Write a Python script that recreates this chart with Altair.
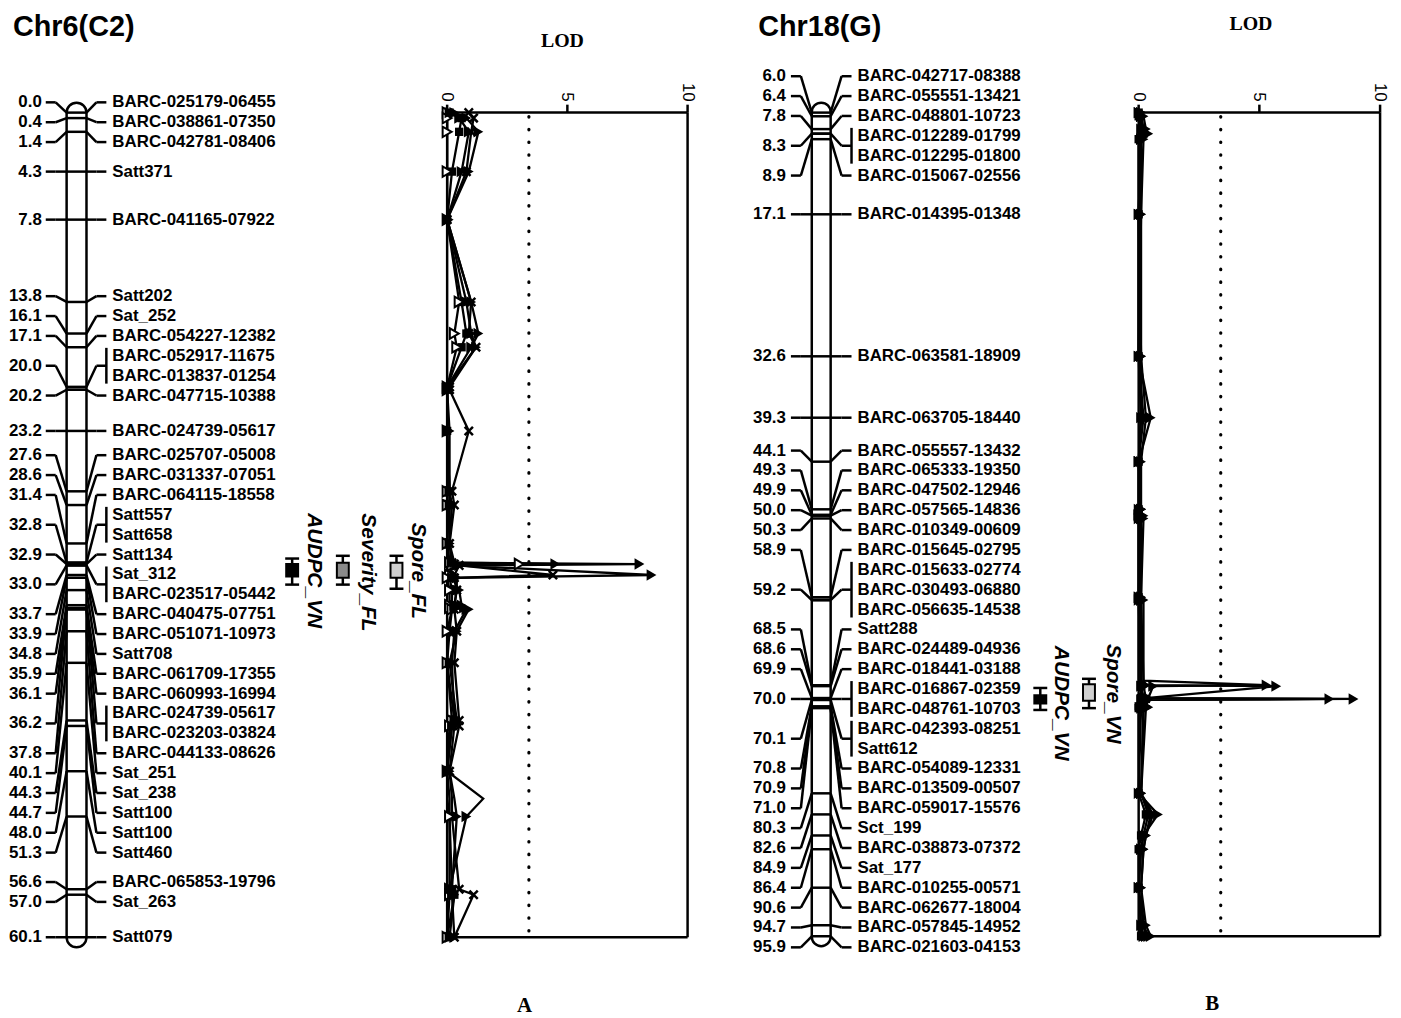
import altair as alt
import pandas as pd

SANS = "Liberation Sans"
SERIF = "Liberation Serif"

# ---------------- Panel A : Chr6(C2) ----------------
A_MARKERS = ["BARC-025179-06455", "BARC-038861-07350", "BARC-042781-08406", "Satt371",
             "BARC-041165-07922", "Satt202", "Sat_252", "BARC-054227-12382",
             "BARC-052917-11675", "BARC-013837-01254", "BARC-047715-10388",
             "BARC-024739-05617", "BARC-025707-05008", "BARC-031337-07051",
             "BARC-064115-18558", "Satt557", "Satt658", "Satt134", "Sat_312",
             "BARC-023517-05442", "BARC-040475-07751", "BARC-051071-10973", "Satt708",
             "BARC-061709-17355", "BARC-060993-16994", "BARC-024739-05617",
             "BARC-023203-03824", "BARC-044133-08626", "Sat_251", "Sat_238", "Satt100",
             "Satt100", "Satt460", "BARC-065853-19796", "Sat_263", "Satt079"]
A_CM = [0.0, 0.4, 1.4, 4.3, 7.8, 13.8, 16.1, 17.1, 20.0, 20.0, 20.2, 23.2, 27.6, 28.6,
        31.4, 32.8, 32.8, 32.9, 33.0, 33.0, 33.7, 33.9, 34.8, 35.9, 36.1, 36.2, 36.2,
        37.8, 40.1, 44.3, 44.7, 48.0, 51.3, 56.6, 57.0, 60.1]

A_LOD_POS = [0.0, 0.4, 1.4, 4.3, 7.8, 13.8, 16.1, 17.1, 20.0, 20.2, 23.2, 27.6, 28.6, 31.4,
             32.8, 32.9, 33.0, 33.7, 33.9, 34.8, 35.9, 36.1, 36.2, 37.8, 40.1, 44.3, 44.7,
             48.0, 50.0, 51.3, 56.6, 57.0, 60.1]
A_TRI1 = [0.3, 0.8, 1.3, 0.9, 0.0, 1.0, 1.3, 1.0, 0.0, 0.0, 0.0, 0.1, 0.2, 0.1, 0.3, 8.0,
          0.5, 0.3, 0.2, 0.5, 0.6, 0.7, 0.8, 0.3, 0.2, 0.3, 0.2, 0.0, 1.5, 0.8, 0.1, 0.2, 0.3]
A_TRI2 = [0.1, 0.5, 0.9, 0.6, 0.0, 0.8, 1.0, 1.2, 0.0, 0.0, 0.1, 0.1, 0.1, 0.1, 0.2, 4.5,
          0.4, 8.5, 0.4, 0.4, 0.3, 0.3, 0.9, 0.4, 0.1, 0.4, 0.3, 0.1, 0.3, 0.4, 0.2, 0.3, 0.1]
A_CROSS = [0.9, 1.1, 1.0, 0.8, 0.0, 1.0, 0.9, 1.2, 0.1, 0.1, 0.9, 0.2, 0.3, 0.1, 0.2, 0.3,
           0.5, 4.4, 0.3, 0.4, 0.3, 0.2, 0.3, 0.4, 0.3, 0.5, 0.5, 0.1, 0.2, 0.2, 0.5, 1.1, 0.3]
A_SQUARE = [0.1, 0.6, 0.5, 0.2, 0.0, 0.6, 0.8, 0.6, 0.0, 0.0, 0.0, 0.1, 0.1, 0.0, 0.1, 0.2,
            0.2, 0.1, 0.1, 0.2, 0.2, 0.1, 0.2, 0.1, 0.0, 0.3, 0.2, 0.0, 0.1, 0.1, 0.2, 0.3, 0.0]
A_OPEN = [0.0, 0.0, 0.0, 0.0, 0.0, 0.5, 0.3, 0.4, 0.0, 0.0, 0.0, 0.0, 0.0, 0.0, 0.1, 3.0,
          0.2, 0.1, 0.0, 0.1, 0.1, 0.1, 0.2, 0.0, 0.0, 0.2, 0.1, 0.0, 0.0, 0.1, 0.1, 0.1, 0.0]

A_QTL_NAMES = ["Spore_FL", "Severity_FL", "AUDPC_VN"]
A_QTL_LO = [32.3, 32.3, 32.5]
A_QTL_HI = [34.7, 34.4, 34.4]
A_QTL_BOX_LO = [32.8, 32.8, 32.9]
A_QTL_BOX_HI = [33.9, 33.9, 33.8]
A_QTL_TEXT_START = [29.9, 29.2, 29.2]

# ---------------- Panel B : Chr18(G) ----------------
B_MARKERS = ["BARC-042717-08388", "BARC-055551-13421", "BARC-048801-10723",
             "BARC-012289-01799", "BARC-012295-01800", "BARC-015067-02556",
             "BARC-014395-01348", "BARC-063581-18909", "BARC-063705-18440",
             "BARC-055557-13432", "BARC-065333-19350", "BARC-047502-12946",
             "BARC-057565-14836", "BARC-010349-00609", "BARC-015645-02795",
             "BARC-015633-02774", "BARC-030493-06880", "BARC-056635-14538", "Satt288",
             "BARC-024489-04936", "BARC-018441-03188", "BARC-016867-02359",
             "BARC-048761-10703", "BARC-042393-08251", "Satt612", "BARC-054089-12331",
             "BARC-013509-00507", "BARC-059017-15576", "Sct_199", "BARC-038873-07372",
             "Sat_177", "BARC-010255-00571", "BARC-062677-18004", "BARC-057845-14952",
             "BARC-021603-04153"]
B_CM = [6.0, 6.4, 7.8, 8.3, 8.3, 8.9, 17.1, 32.6, 39.3, 44.1, 49.3, 49.9, 50.0, 50.3, 58.9,
        59.2, 59.2, 59.2, 68.5, 68.6, 69.9, 70.0, 70.0, 70.1, 70.1, 70.8, 70.9, 71.0, 80.3,
        82.6, 84.9, 86.4, 90.6, 94.7, 95.9]

B_LOD_POS = [6.0, 6.4, 7.8, 8.3, 8.9, 17.1, 32.6, 39.3, 44.1, 49.3, 49.9, 50.0, 50.3, 58.9,
             59.2, 68.0, 68.5, 68.6, 69.9, 70.0, 70.1, 70.8, 70.9, 71.0, 80.3, 82.6, 84.9,
             86.4, 90.6, 94.7, 95.9]
B_TRI1 = [0.1, 0.2, 0.3, 0.4, 0.2, 0.1, 0.1, 0.3, 0.1, 0.1, 0.1, 0.2, 0.2, 0.1, 0.2, 0.2,
          0.3, 0.2, 0.3, 8.9, 0.4, 0.3, 0.4, 0.3, 0.1, 0.6, 0.3, 0.2, 0.1, 0.3, 0.5]
B_TRI2 = [0.0, 0.1, 0.2, 0.3, 0.1, 0.1, 0.0, 0.5, 0.0, 0.1, 0.0, 0.1, 0.1, 0.0, 0.1, 0.1,
          0.2, 0.1, 0.2, 7.9, 0.3, 0.2, 0.3, 0.2, 0.1, 0.4, 0.2, 0.1, 0.0, 0.2, 0.3]
B_TRI3 = [0.0, 0.1, 0.1, 0.3, 0.1, 0.0, 0.0, 0.2, 0.0, 0.0, 0.0, 0.1, 0.0, 0.0, 0.1, 0.2,
          5.3, 0.6, 0.4, 0.3, 0.2, 0.2, 0.3, 0.1, 0.0, 0.8, 0.2, 0.1, 0.0, 0.1, 0.2]
B_TRI4 = [0.1, 0.1, 0.2, 0.2, 0.1, 0.0, 0.1, 0.1, 0.0, 0.1, 0.0, 0.0, 0.1, 0.1, 0.0, 0.1,
          0.2, 5.7, 0.3, 0.2, 0.1, 0.3, 0.2, 0.2, 0.1, 0.5, 0.3, 0.2, 0.1, 0.2, 0.4]
B_SQUARE = [0.0, 0.0, 0.1, 0.2, 0.0, 0.0, 0.0, 0.1, 0.0, 0.0, 0.0, 0.0, 0.0, 0.0, 0.0, 0.0,
            0.1, 0.1, 0.1, 0.3, 0.1, 0.0, 0.1, 0.0, 0.0, 0.3, 0.1, 0.0, 0.0, 0.1, 0.1]

B_QTL_NAMES = ["Spore_VN", "AUDPC_VN"]
B_QTL_LO = [67.8, 68.8]
B_QTL_HI = [71.0, 71.2]
B_QTL_BOX_LO = [68.4, 69.6]
B_QTL_BOX_HI = [70.2, 70.5]
B_QTL_TEXT_START = [64.0, 64.2]

LOD_THRESHOLD = 3.4
LOD_TICKS = [0, 5, 10]

# ---------------- layout / styles (pixels inside each panel) ----------------
H = 1012
LW = 2.5

A_LAY = dict(width=700, y_range=[102, 932], num_x=30, stub_l=(34, 44), bar=(55, 75),
             stub_r=(85, 95), text_x=101, lod_range=[438, 680], title="Chr6(C2)",
             title_xy=(1, 25), lod_xy=(554, 36), letter="A", letter_xy=(516, 1007),
             qtl_glyph_x=[387, 333, 282], qtl_text_x=[409, 358, 304],
             qtl_fill=["#d0d0d0", "#8a8a8a", "black"])
B_LAY = dict(width=690, y_range=[102, 931], num_x=79, stub_l=(84, 94), bar=(105, 124),
             stub_r=(135, 145), text_x=151, lod_range=[434, 677], title="Chr18(G)",
             title_xy=(51, 25), lod_xy=(547, 19), letter="B", letter_xy=(508, 1005),
             qtl_glyph_x=[384, 335], qtl_text_x=[408, 356],
             qtl_fill=["#d0d0d0", "black"])

CROSS_PATH = "M-1,-1L1,1M-1,1L1,-1"
STYLES = {
    "tri": dict(shape="triangle-right", filled=True, color="black", size=130),
    "open": dict(shape="triangle-right", filled=True, fill="white", stroke="black",
                 strokeWidth=2, size=110),
    "cross": dict(shape=CROSS_PATH, filled=False, color="black", strokeWidth=2.5, size=70),
    "square": dict(shape="square", filled=True, color="black", size=70),
}


def label_layout(cms, spacing, merge_gap, max_end):
    """Spread labels apart: clusters are centred on the middle of their true span,
    and may not run past max_end at the bottom."""
    n = len(cms)
    clusters = [[i] for i in range(n)]

    def start(cl):
        mid = (cms[cl[0]] + cms[cl[-1]]) / 2
        s = mid - (len(cl) - 1) * spacing / 2
        return min(s, max_end - (len(cl) - 1) * spacing)

    merged = True
    while merged:
        merged = False
        for j in reversed(range(len(clusters) - 1)):
            end_j = start(clusters[j]) + (len(clusters[j]) - 1) * spacing
            if start(clusters[j + 1]) - end_j < merge_gap:
                clusters[j] = clusters[j] + clusters.pop(j + 1)
                merged = True
                break
    ys = [0.0] * n
    for cl in clusters:
        s = start(cl)
        for k, i in enumerate(cl):
            ys[i] = s + k * spacing
    return ys


def one_row(**kw):
    return pd.DataFrame({k: [v] for k, v in kw.items()})


def panel(lay, markers, cms, lod_pos, series, qtl):
    dmin, dmax = cms[0], cms[-1]
    yr = lay["y_range"]
    ysc = alt.Scale(domain=[dmin, dmax], range=yr, nice=False, zero=False)
    xsc = alt.Scale(domain=[0, 10], range=lay["lod_range"], nice=False, zero=False)

    def Y(f):
        return alt.Y(f"{f}:Q", scale=ysc, axis=None)

    def X(f):
        return alt.X(f"{f}:Q", scale=xsc, axis=None)

    px = (dmax - dmin) / (yr[1] - yr[0])   # cM per pixel
    ly = label_layout(cms, 20 * px, 21 * px, dmax + 13 * px)
    mk = pd.DataFrame({"name": markers, "cm": cms, "ly": ly})
    grp = (mk.groupby("cm", sort=False)
             .agg(first=("ly", "min"), last=("ly", "max"), ly=("ly", "mean"), n=("ly", "size"))
             .reset_index())
    grp["txt"] = grp["cm"].map(lambda v: f"{v:.1f}")
    multi = grp[grp["n"] > 1]

    bl, br = lay["bar"]
    layers = []
    # chromosome body
    layers.append(alt.Chart(one_row(lo=dmin, hi=dmax)).mark_rect(
        fill="white", stroke="black", strokeWidth=LW, cornerRadius=10, yOffset=-10, y2Offset=10
    ).encode(x=alt.value(bl), x2=alt.value(br), y=Y("lo"), y2="hi"))
    layers.append(alt.Chart(mk).mark_rule(strokeWidth=LW, color="black").encode(
        x=alt.value(bl), x2=alt.value(br), y=Y("cm")))
    # right connectors
    layers.append(alt.Chart(grp).mark_rule(strokeWidth=LW, color="black").encode(
        x=alt.value(br), x2=alt.value(lay["stub_r"][0]), y=Y("cm"), y2="ly"))
    layers.append(alt.Chart(grp).mark_rule(strokeWidth=LW, color="black").encode(
        x=alt.value(lay["stub_r"][0]), x2=alt.value(lay["stub_r"][1]), y=Y("ly")))
    layers.append(alt.Chart(multi).mark_rule(strokeWidth=LW, color="black", yOffset=-8,
                                             y2Offset=8).encode(
        x=alt.value(lay["stub_r"][1]), y=Y("first"), y2="last"))
    # left connectors
    layers.append(alt.Chart(grp).mark_rule(strokeWidth=LW, color="black").encode(
        x=alt.value(bl), x2=alt.value(lay["stub_l"][1]), y=Y("cm"), y2="ly"))
    layers.append(alt.Chart(grp).mark_rule(strokeWidth=LW, color="black").encode(
        x=alt.value(lay["stub_l"][1]), x2=alt.value(lay["stub_l"][0]), y=Y("ly")))
    # labels
    layers.append(alt.Chart(mk).mark_text(align="left", baseline="middle", font=SANS,
                                          fontSize=17, fontWeight="bold", color="black").encode(
        x=alt.value(lay["text_x"]), y=Y("ly"), text="name:N"))
    layers.append(alt.Chart(grp).mark_text(align="right", baseline="middle", font=SANS,
                                           fontSize=17, fontWeight="bold", color="black").encode(
        x=alt.value(lay["num_x"]), y=Y("ly"), text="txt:N"))

    # QTL intervals
    for i, name in enumerate(qtl["names"]):
        gx = lay["qtl_glyph_x"][i]
        q = one_row(lo=qtl["lo"][i], hi=qtl["hi"][i], blo=qtl["blo"][i], bhi=qtl["bhi"][i],
                    ts=qtl["ts"][i], name=name)
        layers.append(alt.Chart(q).mark_rule(strokeWidth=LW, color="black").encode(
            x=alt.value(gx), y=Y("lo"), y2="hi"))
        for end in ("lo", "hi"):
            layers.append(alt.Chart(q).mark_rule(strokeWidth=LW, color="black").encode(
                x=alt.value(gx - 7), x2=alt.value(gx + 7), y=Y(end)))
        layers.append(alt.Chart(q).mark_rect(fill=lay["qtl_fill"][i], stroke="black",
                                             strokeWidth=2).encode(
            x=alt.value(gx - 6), x2=alt.value(gx + 6), y=Y("blo"), y2="bhi"))
        layers.append(alt.Chart(q).mark_text(angle=90, align="left", baseline="middle",
                                             font=SANS, fontSize=21, fontWeight="bold",
                                             fontStyle="italic", color="black").encode(
            x=alt.value(lay["qtl_text_x"][i]), y=Y("ts"), text="name:N"))

    # LOD frame
    hl = pd.DataFrame({"a": [0, 0], "b": [10, 10], "y": [dmin, dmax]})
    layers.append(alt.Chart(hl).mark_rule(strokeWidth=LW, color="black").encode(
        x=X("a"), x2="b", y=Y("y")))
    vl = pd.DataFrame({"v": [0, 10], "lo": [dmin, dmin], "hi": [dmax, dmax]})
    layers.append(alt.Chart(vl).mark_rule(strokeWidth=LW, color="black").encode(
        x=X("v"), y=Y("lo"), y2="hi"))
    tk = pd.DataFrame({"v": LOD_TICKS, "y": [dmin] * len(LOD_TICKS),
                       "lab": [str(t) for t in LOD_TICKS]})
    layers.append(alt.Chart(tk).mark_rule(strokeWidth=LW, color="black", yOffset=-8).encode(
        x=X("v"), y=Y("y"), y2="y"))
    layers.append(alt.Chart(tk).mark_text(angle=90, align="right", baseline="middle",
                                          font=SANS, fontSize=17, color="black",
                                          yOffset=-11).encode(
        x=X("v"), y=Y("y"), text="lab:N"))
    th = one_row(v=LOD_THRESHOLD, lo=dmin, hi=dmax)
    layers.append(alt.Chart(th).mark_rule(strokeWidth=3.2, color="black", strokeDash=[0.5, 12.3],
                                          strokeCap="round", yOffset=4, y2Offset=-2).encode(
        x=X("v"), y=Y("lo"), y2="hi"))

    # LOD curves
    marker_set = set(cms)
    rows = []
    for sname, (style, vals) in series.items():
        assert len(vals) == len(lod_pos), sname
        for p, v in zip(lod_pos, vals):
            rows.append(dict(series=sname, style=style, cm=p, lod=v, mk=p in marker_set))
    lod = pd.DataFrame(rows)
    layers.append(alt.Chart(lod).mark_line(strokeWidth=2.3, color="black").encode(
        x=X("lod"), y=Y("cm"), detail="series:N", order="cm:Q"))
    for style in ["square", "cross", "open", "tri"]:
        sub = lod[(lod["style"] == style) & (lod["mk"])]
        if len(sub) == 0:
            continue
        layers.append(alt.Chart(sub).mark_point(opacity=1, **STYLES[style]).encode(
            x=X("lod"), y=Y("cm")))

    # titles
    tx, ty = lay["title_xy"]
    layers.append(alt.Chart(one_row(t=lay["title"])).mark_text(
        align="left", baseline="alphabetic", font=SANS, fontSize=29, fontWeight="bold",
        color="black").encode(x=alt.value(tx), y=alt.value(ty), text="t:N"))
    lx, lyy = lay["lod_xy"]
    layers.append(alt.Chart(one_row(t="LOD")).mark_text(
        align="center", baseline="alphabetic", font=SERIF, fontSize=20, fontWeight="bold",
        color="black").encode(x=alt.value(lx), y=alt.value(lyy), text="t:N"))
    ax, ay = lay["letter_xy"]
    layers.append(alt.Chart(one_row(t=lay["letter"])).mark_text(
        align="center", baseline="alphabetic", font=SERIF, fontSize=21, fontWeight="bold",
        color="black").encode(x=alt.value(ax), y=alt.value(ay), text="t:N"))

    return alt.layer(*layers).properties(width=lay["width"], height=H)


pa = panel(A_LAY, A_MARKERS, A_CM, A_LOD_POS,
           {"t1": ("tri", A_TRI1), "t2": ("tri", A_TRI2), "x": ("cross", A_CROSS),
            "sq": ("square", A_SQUARE), "op": ("open", A_OPEN)},
           dict(names=A_QTL_NAMES, lo=A_QTL_LO, hi=A_QTL_HI, blo=A_QTL_BOX_LO,
                bhi=A_QTL_BOX_HI, ts=A_QTL_TEXT_START))
pb = panel(B_LAY, B_MARKERS, B_CM, B_LOD_POS,
           {"t1": ("tri", B_TRI1), "t2": ("tri", B_TRI2), "t3": ("tri", B_TRI3),
            "t4": ("tri", B_TRI4), "sq": ("square", B_SQUARE)},
           dict(names=B_QTL_NAMES, lo=B_QTL_LO, hi=B_QTL_HI, blo=B_QTL_BOX_LO,
                bhi=B_QTL_BOX_HI, ts=B_QTL_TEXT_START))

chart = (alt.hconcat(pa, pb, spacing=0, bounds="flush")
         .properties(padding=0)
         .configure_view(stroke=None))
chart.save("out.html", embed_options={"renderer": "svg", "actions": False})
